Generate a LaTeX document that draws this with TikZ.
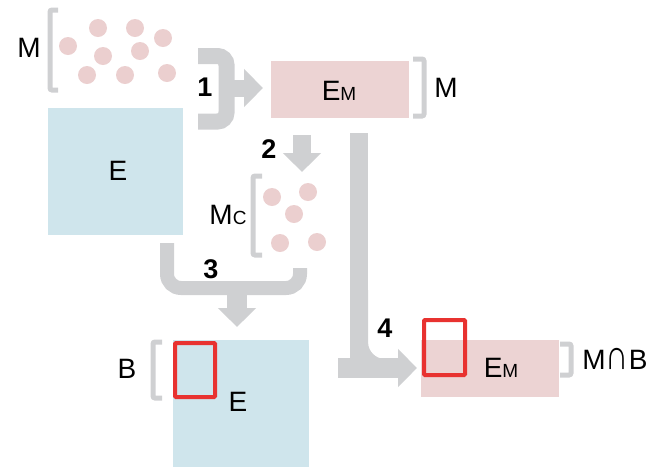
\documentclass[tikz,border=0pt]{standalone}
\usepackage{fontspec}
\usepackage{graphicx}
\setmainfont{Liberation Sans}
\usetikzlibrary{arrows.meta}
\definecolor{arrowgray}{RGB}{207,208,210}
\definecolor{pinkfill}{RGB}{236,211,211}
\definecolor{dotpink}{RGB}{235,207,207}
\definecolor{bluefill}{RGB}{207,229,236}
\definecolor{redline}{RGB}{232,50,48}
\tikzset{
  lbl/.style={inner sep=0pt, font=\fontsize{28}{30}\selectfont},
  num/.style={inner sep=0pt, font=\fontsize{27}{29}\selectfont\bfseries},
  bluebox/.style={fill=bluefill, inner sep=0pt},
  pinkbox/.style={fill=pinkfill, inner sep=0pt},
  dot/.style={circle, fill=dotpink, minimum size=18pt, inner sep=0pt},
  brk/.style={draw=arrowgray, line width=5pt, rounded corners=2pt},
  garrow/.style={draw=arrowgray, line width=18pt, -{Triangle[width=37pt,length=19pt]}},
  gbar/.style={draw=arrowgray},
  redbox/.style={draw=redline, line width=4pt, rounded corners=1pt},
}
\newcommand{\smallsub}[1]{{\fontsize{19}{20}\selectfont #1}}
\begin{document}
\begin{tikzpicture}[x=1pt,y=-1pt]
\useasboundingbox (0,0) rectangle (652,467);
% top left: set M
\node[lbl] (lM) at (29,47.5) {M};
\draw[brk] (58,10) -- (50,10) -- (50,90) -- (58,90);
\foreach \p/\n in {{(98,28)}/d1,{(135,28)}/d2,{(163,38)}/d3,{(68,46)}/d4,{(103,56)}/d5,{(140,51)}/d6,{(87,75)}/d7,{(125,75)}/d8,{(167,73)}/d9}
  \node[dot] (\n) at \p {};
% top-left blue E
\node[bluebox, minimum width=135pt, minimum height=127pt] (E1) at (115.5,171.5) {};
\node[lbl] (E1l) at (118,171) {E};
% top E_M
\node[pinkbox, minimum width=138pt, minimum height=57pt] (EM1) at (340,89.5) {};
\node[lbl] (EM1l) at (339,91) {E\smallsub{M}};
\draw[brk] (413,59) -- (424,59) -- (424,116) -- (413,116);
\node[lbl] (rM) at (446,88) {M};
% arrow 1
\coordinate (a1s) at (226,88);
\coordinate (a1e) at (263,88);
\draw[gbar, line width=16pt, rounded corners=9pt] (198,56) -- (226.5,56) -- (226.5,121.5) -- (198,121.5);
\draw[garrow, line width=17pt] (a1s) -- (a1e);
\node[num] (n1) at (205,87) {1};
% arrow 2
\coordinate (a2s) at (302,135);
\coordinate (a2e) at (302,172);
\draw[garrow] (a2s) -- (a2e);
\node[num] (n2) at (269,149) {2};
% Mc set
\node[lbl] (lMc) at (228,214.5) {M\smallsub{C}};
\draw[brk] (262,176) -- (253,176) -- (253,255) -- (262,255);
\foreach \p/\n in {{(272,197)}/c1,{(308,192)}/c2,{(294,214)}/c3,{(280,243)}/c4,{(317,242)}/c5}
  \node[dot] (\n) at \p {};
% arrow 3
\coordinate (a3l) at (167,243);
\coordinate (a3r) at (300,268);
\coordinate (a3s) at (237,288);
\coordinate (a3e) at (237,327);
\draw[gbar, line width=14pt, rounded corners=14pt] (a3l) -- (167,288) -- (300,288) -- (a3r);
\draw[garrow, line width=20pt] (a3s) -- (a3e);
\node[num] (n3) at (211,269) {3};
% bottom blue E
\node[bluebox, minimum width=136pt, minimum height=127pt] (E2) at (241,403.5) {};
\node[lbl] (E2l) at (238,402) {E};
\draw[redbox] (175,343) rectangle (215,397);
\draw[brk] (162,342) -- (153,342) -- (153,398) -- (162,398);
\node[lbl] (lB) at (127,368.5) {B};
% bottom E_M
\node[pinkbox, minimum width=138pt, minimum height=57pt] (EM2) at (490,368.5) {};
\node[lbl] (EM2l) at (501,368) {E\smallsub{M}};
\draw[redbox] (424,320) rectangle (465,375);
\draw[brk] (560,344) -- (571,344) -- (571,375) -- (560,375);
\node[lbl] (lMB) at (615,359) {M\scalebox{1.15}[1.5]{∩}B};
% arrow 4
\coordinate (a4s) at (359,133);
\coordinate (a4h) at (338,368);
\coordinate (a4e) at (417,368);
\draw[gbar, line width=18pt] (a4s) -- (359,362);
\draw[gbar, line width=18pt, rounded corners=26pt] (359,290) -- (359,368) -- (400,368);
\draw[garrow, line width=20pt] (a4h) -- (a4e);
\node[num] (n4) at (385,328) {4};
\end{tikzpicture}
\end{document}
